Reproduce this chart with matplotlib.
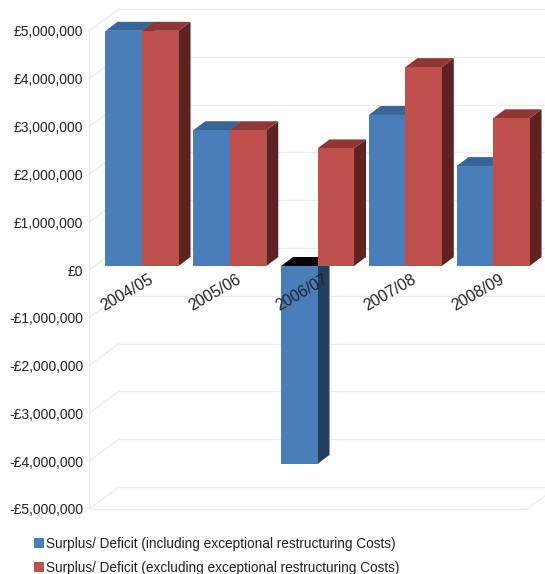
import matplotlib
matplotlib.use("Agg")
import matplotlib.pyplot as plt
from matplotlib.patches import Polygon, Patch
from matplotlib.transforms import offset_copy

plt.rcParams['font.family'] = ['Liberation Sans', 'DejaVu Sans']

# ---- data -------------------------------------------------------------
years = ["2004/05", "2005/06", "2006/07", "2007/08", "2008/09"]
incl_costs = [4920000, 2840000, -4140000, 3160000, 2090000]
excl_costs = [4920000, 2840000, 2460000, 4160000, 3090000]
series_names = [
    "Surplus/ Deficit (including exceptional restructuring Costs)",
    "Surplus/ Deficit (excluding exceptional restructuring Costs)",
]
tick_values = [5000000, 4000000, 3000000, 2000000, 1000000, 0,
               -1000000, -2000000, -3000000, -4000000, -5000000]
tick_labels = ["£5,000,000", "£4,000,000", "£3,000,000", "£2,000,000",
               "£1,000,000", "£0", "-£1,000,000", "-£2,000,000",
               "-£3,000,000", "-£4,000,000", "-£5,000,000"]

# ---- styling ----------------------------------------------------------
blue = {"front": "#4a7ebb", "top": "#38659a", "side": "#223d5e"}
red = {"front": "#c0504d", "top": "#8f3735", "side": "#5e2321"}
neg_top = "#050505"
grid_col = "#ececec"
bar_w = 0.416
depth_px = (12, 9)        # bar depth offset in pixels
wall_px = (30, 22)        # back wall offset in pixels

W, H = 545, 574
fig = plt.figure(figsize=(W / 100, H / 100), dpi=100)
ax = fig.add_axes([89 / W, 1 - 509 / H, (527 - 89) / W, (509 - 31) / H])
ax.set_xlim(-0.604, 4.387)
ax.set_ylim(-5000000, 5000000)
for s in ax.spines.values():
    s.set_visible(False)
ax.set_xticks([])
ax.set_yticks(tick_values)
ax.set_yticklabels(tick_labels, fontsize=10, color="#222222")
ax.tick_params(axis="y", length=0, pad=4)

# ---- faint 3D frame: back wall gridlines, connectors, floor edge --------
ytr = ax.get_yaxis_transform()
back_tr = offset_copy(ytr, fig=fig, x=wall_px[0], y=wall_px[1], units="dots")
for v in tick_values:
    ax.plot([0, 1.1], [v, v], transform=back_tr, color=grid_col, lw=1,
            zorder=0, clip_on=False)
inv = ax.transData.inverted()
for v in tick_values:
    p0 = ax.transData.transform((ax.get_xlim()[0], v))
    p1 = (p0[0] + wall_px[0], p0[1] + wall_px[1])
    d0, d1 = inv.transform(p0), inv.transform(p1)
    ax.plot([d0[0], d1[0]], [d0[1], d1[1]], color=grid_col, lw=1,
            zorder=0, clip_on=False)
ax.plot([0, 0], [-5000000, 5000000], transform=ytr, color=grid_col, lw=1,
        zorder=0, clip_on=False)
ax.plot([0, 1], [-5000000, -5000000], transform=ytr, color=grid_col, lw=1,
        zorder=0, clip_on=False)
pr = ax.transData.transform((ax.get_xlim()[1], -5000000))
dr0 = inv.transform(pr)
dr1 = inv.transform((pr[0] + wall_px[0], pr[1] + wall_px[1]))
ax.plot([dr0[0], dr1[0]], [dr0[1], dr1[1]], color=grid_col, lw=1,
        zorder=0, clip_on=False)

# ---- 3D bars ----------------------------------------------------------
bar_tr = offset_copy(ax.transData, fig=fig, x=0, y=4, units="dots")
o = ax.transData.transform((0, 0))
dd = inv.transform((o[0] + depth_px[0], o[1] + depth_px[1])) - inv.transform(o)
ddx, ddy = dd


def draw_bar(x_left, value, cols, z):
    lo, hi = min(0, value), max(0, value)
    xr = x_left + bar_w
    side = Polygon([(xr, lo), (xr + ddx, lo + ddy), (xr + ddx, hi + ddy), (xr, hi)],
                   closed=True, facecolor=cols["side"], edgecolor="none",
                   transform=bar_tr, zorder=z, clip_on=False)
    top_col = cols["top"] if value >= 0 else neg_top
    top = Polygon([(x_left, hi), (xr, hi), (xr + ddx, hi + ddy), (x_left + ddx, hi + ddy)],
                  closed=True, facecolor=top_col, edgecolor="none",
                  transform=bar_tr, zorder=z, clip_on=False)
    ax.add_patch(side)
    ax.add_patch(top)


xs = list(range(len(years)))
for i, x in enumerate(xs):
    draw_bar(x - bar_w, incl_costs[i], blue, 2 + 3 * i)
    draw_bar(x, excl_costs[i], red, 3.5 + 3 * i)

b1 = ax.bar([x - bar_w for x in xs], incl_costs, width=bar_w, align="edge",
            color=blue["front"], edgecolor="none")
b2 = ax.bar(xs, excl_costs, width=bar_w, align="edge",
            color=red["front"], edgecolor="none")
for i, p in enumerate(b1.patches):
    p.set_transform(bar_tr)
    p.set_zorder(2.5 + 3 * i)
    p.set_clip_on(False)
for i, p in enumerate(b2.patches):
    p.set_transform(bar_tr)
    p.set_zorder(4 + 3 * i)
    p.set_clip_on(False)

# ---- category labels along the zero line --------------------------------
lab_tr = offset_copy(ax.transData, fig=fig, x=6, y=-2, units="dots")
for x, lab in zip(xs, years):
    ax.text(x, 0, lab, transform=lab_tr, rotation=30, rotation_mode="anchor",
            ha="right", va="top", fontsize=11.5, color="#222222", zorder=20)

# ---- legend -----------------------------------------------------------
handles = [Patch(facecolor=blue["front"]), Patch(facecolor=red["front"])]
fig.legend(handles, series_names, loc="upper left",
           bbox_to_anchor=(34 / W, 1 - 537 / H), frameon=False, fontsize=9.8,
           handlelength=0.75, handleheight=0.75, handletextpad=0.15,
           labelspacing=0.75, borderpad=0, borderaxespad=0, labelcolor="#222222")

fig.savefig("out.png", dpi=100)
